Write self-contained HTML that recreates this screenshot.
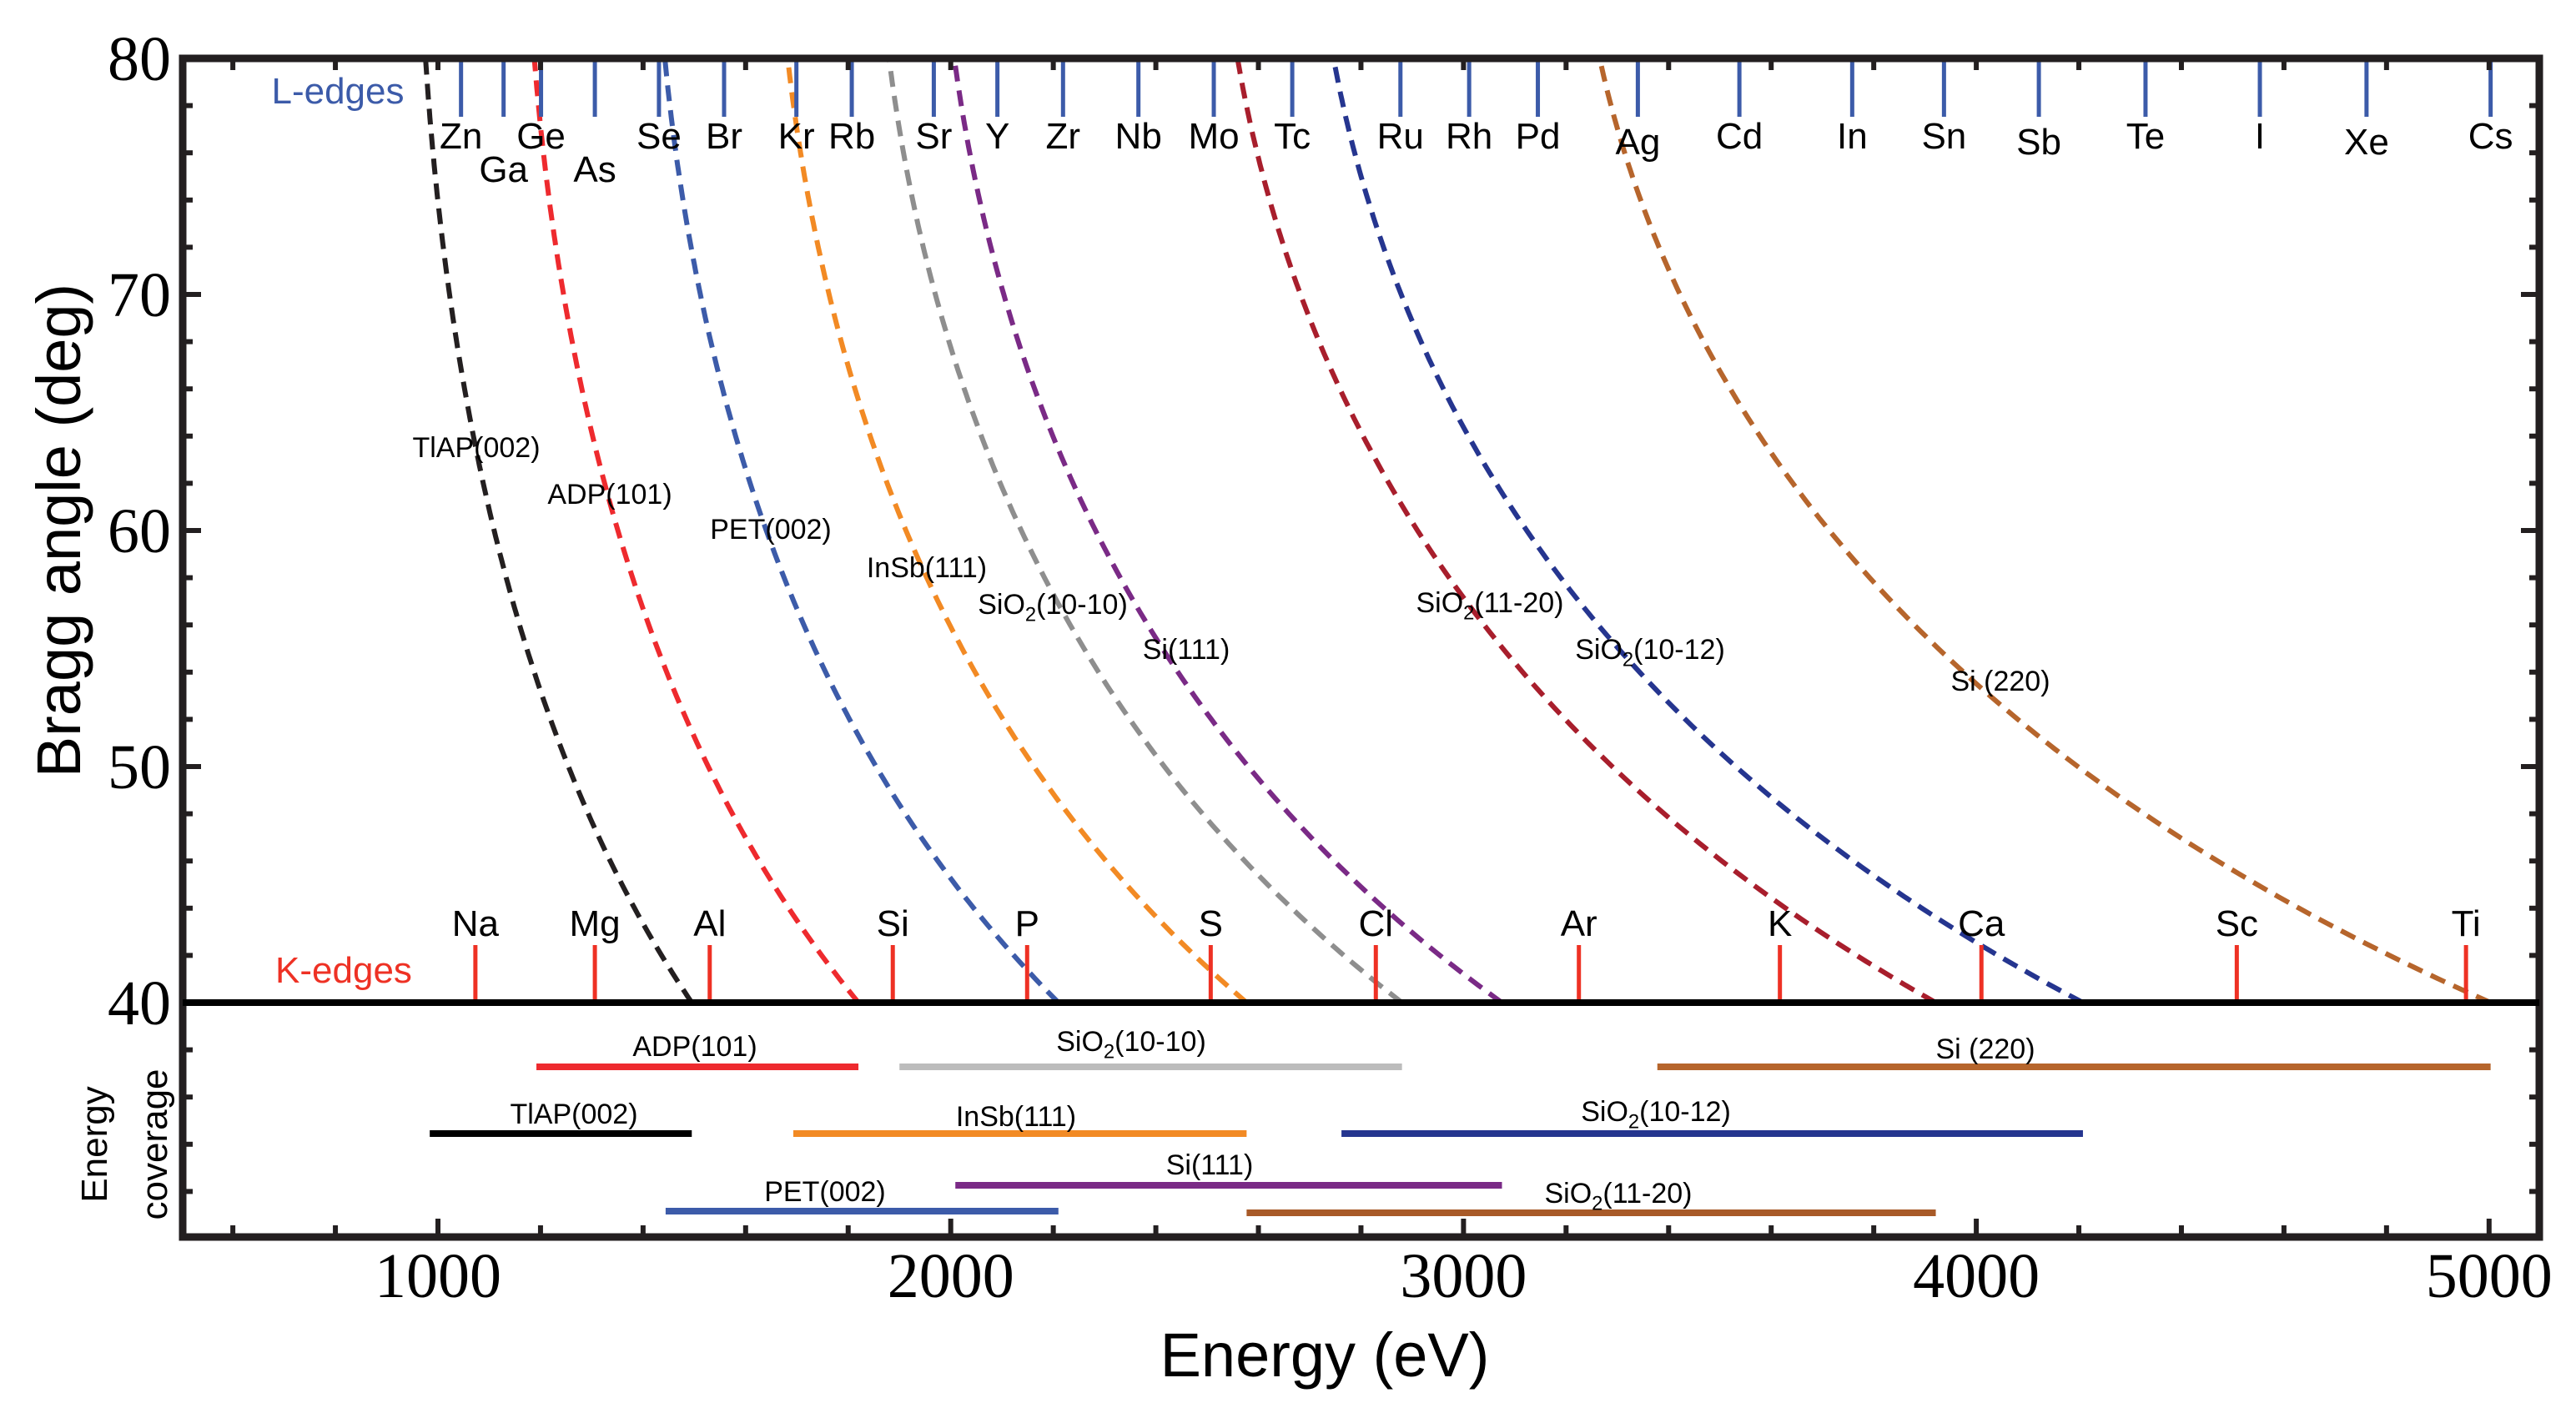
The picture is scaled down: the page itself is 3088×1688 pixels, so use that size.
<!DOCTYPE html>
<html><head><meta charset="utf-8">
<style>
html,body{margin:0;padding:0;background:#fff;}
svg{display:block;}
.s{font-family:"Liberation Sans",sans-serif;}
.serif{font-family:"Liberation Serif",serif;}
</style></head>
<body>
<svg id="chart" width="3088" height="1688" viewBox="0 0 3088 1688" xmlns="http://www.w3.org/2000/svg">
<g id="curves"></g>
<g id="cover"></g>
<g id="edges"></g>
<g id="axes"></g>
</svg>
<script>
// ---- data ----
const crystals = ["TlAP(002)","ADP(101)","PET(002)","InSb(111)","SiO2(10-10)","Si(111)","SiO2(11-20)","SiO2(10-12)","Si (220)"];
const coverMin = [984,1192,1444,1693,1900,2009,2577,2762,3378];
const coverMax = [1495,1820,2210,2577,2880,3075,3921,4208,5003];
const kNames = ["Na","Mg","Al","Si","P","S","Cl","Ar","K","Ca","Sc","Ti"];
const kEnergy = [1073,1306,1530,1887,2149,2507,2829,3225,3617,4010,4508,4955];
const lNames = ["Zn","Ga","Ge","As","Se","Br","Kr","Rb","Sr","Y","Zr","Nb","Mo","Tc","Ru","Rh","Pd","Ag","Cd","In","Sn","Sb","Te","I","Xe","Cs"];
const lEnergy = [1045,1128,1201,1306,1431,1558,1699,1807,1967,2091,2219,2366,2513,2666,2877,3011,3145,3340,3538,3758,3937,4122,4330,4553,4761,5003];
const xTicks = [1000,2000,3000,4000,5000];
const yTicks = [40,50,60,70,80];

// ---- styling (not data) ----
const curveColors = ["#231f20","#ee2a2e","#3c5ba9","#f28a24","#8e8e8e","#7a2a86","#a81e2c","#25358f","#b6652c"];
const barColors   = ["#000000","#ee2a2e","#3c5ba9","#f28a24","#bcbcbc","#7a2a86","#a85a28","#25358f","#b6652c"];
const barRow = [1,0,2,1,0,2,2,1,0];
const barRowY = [1279,1359,1452];
const barRowYAlt = {5:1421,6:1454};
const curveLabelPos = [[571,536],[731,592],[924,634],[1111,680],[1262,724],[1422,778],[1786,722],[1978,778],[2398,816]];
const barLabelPos = [[688,1335],[833,1254],[989,1428],[1218,1338],[1356,1248],[1450,1396],[1940,1430],[1985,1332],[2380,1257]];
const lLow = {Ga:1,As:1,Xe:1,Sb:1,Ag:1,Cd:0};

// ---- axes ----
const X0=525, PX=0.6147;
const xs = e => X0 + (e-1000)*PX;
const Y80=70, Y40=1202, PY=(Y40-Y80)/40;
const ys = a => Y40 - (a-40)*PY;
const L=219, R=3044, T=70, B=1483;
const NS="http://www.w3.org/2000/svg";
function mk(tag, attrs, parent, text){
  const el=document.createElementNS(NS,tag);
  for(const k in attrs) el.setAttribute(k,attrs[k]);
  if(text!==undefined) el.textContent=text;
  parent.appendChild(el); return el;
}
function labelText(parent, s, x, y, size, anchor, fill){
  const t=mk('text',{x:x,y:y,'font-size':size,'text-anchor':anchor||'middle',fill:fill||'#000',class:'s'},parent);
  const m=s.match(/^SiO2(.*)$/);
  if(m){
    t.appendChild(document.createTextNode('SiO'));
    mk('tspan',{'font-size':size*0.7,dy:size*0.25},t,'2');
    mk('tspan',{dy:-size*0.25},t,m[1]);
  } else t.textContent=s;
  return t;
}

const gc=document.getElementById('curves');
const sinr=d=>Math.sin(d*Math.PI/180);
crystals.forEach((c,i)=>{
  const emax=coverMax[i];
  let d='';
  for(let a=40;a<=80.001;a+=0.25){
    const e=emax*sinr(40)/sinr(a);
    d+=(d?'L':'M')+xs(e).toFixed(1)+','+ys(a).toFixed(1);
  }
  const p=mk('path',{d:d,fill:'none',stroke:curveColors[i],'stroke-width':6,'stroke-dasharray':'19 11'},gc);
  
  
  const t=labelText(gc,c,curveLabelPos[i][0],curveLabelPos[i][1]+12,34);
  
  
});

const gb=document.getElementById('cover');
crystals.forEach((c,i)=>{
  const y = barRowYAlt[i]!==undefined ? barRowYAlt[i] : barRowY[barRow[i]];
  const ln=mk('line',{x1:xs(coverMin[i]),x2:xs(coverMax[i]),y1:y,y2:y,stroke:barColors[i],'stroke-width':8},gb);
  
  
  const t=labelText(gb,c,barLabelPos[i][0],barLabelPos[i][1]+12,34);
  
  
});

const ge=document.getElementById('edges');
kNames.forEach((n,i)=>{
  const x=xs(kEnergy[i]);
  const ln=mk('line',{x1:x,x2:x,y1:1133,y2:Y40,stroke:'#ee3124','stroke-width':5},ge);
  
  
  const t=mk('text',{x:x,y:1122,'font-size':44,'text-anchor':'middle',class:'s'},ge,n);
  
  
});
lNames.forEach((n,i)=>{
  const x=xs(lEnergy[i]);
  const ln=mk('line',{x1:x,x2:x,y1:T,y2:140,stroke:'#3c5ba9','stroke-width':5},ge);
  
  
  const y = (n==='Ga'||n==='As') ? 218 : (lLow[n]?185:178);
  const t=mk('text',{x:x,y:y,'font-size':44,'text-anchor':'middle',class:'s'},ge,n);
  
  
});
const kl=mk('text',{x:412,y:1178,'font-size':44,'text-anchor':'middle',fill:'#ee3124',class:'s'},ge,'K-edges');


const ll=mk('text',{x:405,y:124,'font-size':44,'text-anchor':'middle',fill:'#3c5ba9',class:'s'},ge,'L-edges');



const ga=document.getElementById('axes');
for(let e=600;e<=5000;e+=200){
  const x=xs(e); const maj=e%1000===0;
  mk('line',{x1:x,x2:x,y1:B,y2:B-(maj?22:14),stroke:'#231f20','stroke-width':6},ga);
  mk('line',{x1:x,x2:x,y1:T,y2:T+14,stroke:'#231f20','stroke-width':6},ga);
}
for(let a=40;a<=80;a+=2){
  const y=ys(a); const maj=a%10===0;
  mk('line',{x1:L,x2:L+(maj?22:12),y1:y,y2:y,stroke:'#231f20','stroke-width':6},ga);
  mk('line',{x1:R,x2:R-(maj?22:12),y1:y,y2:y,stroke:'#231f20','stroke-width':6},ga);
}
for(let k=1;k<=5;k++){
  const y=Y40+k*PY*2;
  if(y<B-5){
    mk('line',{x1:L,x2:L+12,y1:y,y2:y,stroke:'#231f20','stroke-width':6},ga);
    mk('line',{x1:R,x2:R-12,y1:y,y2:y,stroke:'#231f20','stroke-width':6},ga);
  }
}
const frame=mk('rect',{x:L,y:T,width:R-L,height:B-T,fill:'none',stroke:'#231f20','stroke-width':9},ga);


const sep=mk('line',{x1:L,x2:R,y1:Y40,y2:Y40,stroke:'#000','stroke-width':8},ga);


xTicks.forEach(v=>{
  const t=mk('text',{x:xs(v),y:1555,'font-size':76,'text-anchor':'middle',class:'serif'},ga,String(v));
  
  
});
yTicks.forEach(v=>{
  const t=mk('text',{x:205,y:ys(v)+26,'font-size':76,'text-anchor':'end',class:'serif'},ga,String(v));
  
  
});
const xt=mk('text',{x:1588,y:1650,'font-size':74,'text-anchor':'middle',class:'s'},ga,'Energy (eV)');


const yt=mk('text',{x:0,y:0,'font-size':74,'text-anchor':'middle',class:'s',transform:'translate(96,636) rotate(-90)'},ga,'Bragg angle (deg)');


const c1=mk('text',{x:0,y:0,'font-size':44,'text-anchor':'middle',class:'s',transform:'translate(128,1372) rotate(-90)'},ga,'Energy');


const c2=mk('text',{x:0,y:0,'font-size':44,'text-anchor':'middle',class:'s',transform:'translate(200,1372) rotate(-90)'},ga,'coverage');


</script>
</body></html>
